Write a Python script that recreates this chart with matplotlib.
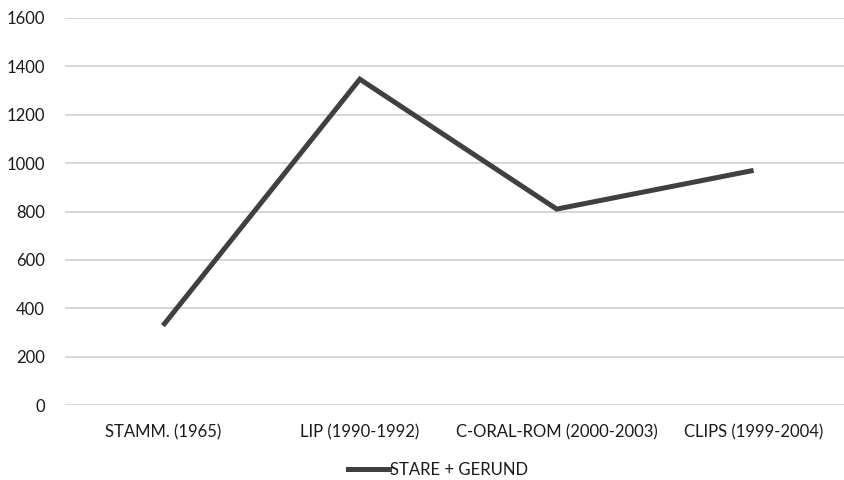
import matplotlib
matplotlib.use("Agg")
import matplotlib.pyplot as plt
from matplotlib.lines import Line2D

categories = ["STAMM. (1965)", "LIP (1990-1992)", "C-ORAL-ROM (2000-2003)", "CLIPS (1999-2004)"]
values = [328, 1347, 810, 970]
series_name = "STARE + GERUND"
yticks = [0, 200, 400, 600, 800, 1000, 1200, 1400, 1600]

plt.rcParams['font.family'] = ['Lato', 'DejaVu Sans']

fig = plt.figure(figsize=(8.44, 4.8), dpi=100)
W, H = 844, 480
left, right = 64.5, 852
top, bottom = 18, 405
ax = fig.add_axes([left / W, 1 - bottom / H, (right - left) / W, (bottom - top) / H])

FS = 12
TC = "#1a1a1a"

x = list(range(len(categories)))
ax.plot(x, values, color="#404040", linewidth=3.6, solid_joinstyle="miter", solid_capstyle="butt", clip_on=False)
ax.set_xlim(-0.5, len(categories) - 0.5)
ax.set_ylim(0, 1600)
ax.set_yticks(yticks)
ax.set_yticklabels([str(v) for v in yticks], fontsize=FS, color=TC)
ax.set_xticks(x)
ax.set_xticklabels(categories, fontsize=FS, color=TC)
ax.grid(axis="y", color="#d0d0d0", linewidth=1.2)
ax.set_axisbelow(True)
for s in ax.spines.values():
    s.set_visible(False)
ax.tick_params(axis="both", length=0)
ax.tick_params(axis="y", pad=14)
ax.tick_params(axis="x", pad=14)

handle = Line2D([0], [0], color="#404040", linewidth=3.6)
fig.legend([handle], [series_name], loc="center", bbox_to_anchor=(438 / W, 1 - 470 / H),
           frameon=False, fontsize=FS, handlelength=2.5, handletextpad=0.05,
           labelcolor=TC)

fig.savefig("out.png", dpi=100)
